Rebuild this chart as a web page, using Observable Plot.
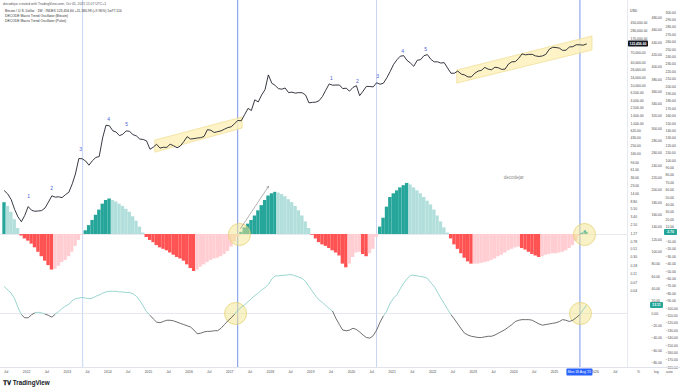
<!DOCTYPE html>
<html><head><meta charset="utf-8">
<script src="https://cdn.jsdelivr.net/npm/d3@7"></script>
<script src="https://cdn.jsdelivr.net/npm/@observablehq/plot@0.6"></script>
<style>
body{margin:0;background:#fff;}
#wrap{position:relative;width:680px;height:391px;overflow:hidden;font-family:"Liberation Sans",Arial,sans-serif;}
#wrap svg{position:absolute;left:0;top:0;background:transparent;overflow:visible;}
.t{position:absolute;white-space:nowrap;line-height:1;}
</style></head><body><div id="wrap"></div>
<script>
// ---------------- data (monthly, Jun 2011 .. Oct 2025) ----------------
const firstMonth = "2011-06";
const price = [
 17,14,10,5.5,3.5,2.6,3.8,
 6.5,5.2,4.9,5.0,5.1,6.0,8.5,12.5,11.5,11.8,11.2,13.4,
 15.5,26,47,120,118,103,80,105,128,135,420,900,
 870,640,600,480,520,640,620,510,470,390,380,350,
 210,240,285,225,237,235,285,260,230,255,335,450,
 390,400,415,425,455,690,665,580,610,640,710,780,
 820,1000,1200,1180,1700,2500,2200,4200,3700,5600,7800,19000,
 11500,10000,8300,8000,8600,6500,6700,6300,6500,6450,5600,3500,
 3600,3650,3950,5100,7500,11000,10200,10300,10300,8300,8500,7100,
 8900,9900,5400,7100,9500,9400,9200,11800,10800,11500,16000,23500,
 36000,48000,59000,61000,46000,39000,32000,46000,48000,61000,65000,49000,
 42000,42000,39000,40000,29000,21000,21000,24000,20000,19000,16800,16800,
 21000,24000,25000,30000,27000,26000,30300,29300,26500,27000,37000,42000,
 42500,52000,68000,64000,66000,66000,60000,58000,60000,66000,90000,101000,
 100000,96000,84000,85000,103000,105000,118000,118000,115000,123456.6
];
const oscBitcoin = [
 43,38,30,20,8,-2,-6,
 -9,-13,-18,-24,-30,-36,-42,-48,-47,-43,-38,-35,
 -30,-24,-16,-8,-1,5,12,19,26,33,41,46,
 48,46,44,41,38,34,30,24,18,10,2,-4,
 -8,-11,-15,-18,-20,-22,-25,-28,-31,-33,-36,-41,
 -46,-50,-48,-44,-41,-38,-35,-33,-32,-30,-27,-23,
 -17,-10,-3,3,9,14,19,25,32,39,46,52,
 55,57,56,54,51,47,43,38,32,25,17,8,
 -1,-6,-11,-14,-16,-19,-22,-25,-29,-40,-45,-40,
 -31,-25,-24,-27,-30,-26,-20,-4,10,22,37,50,
 55,59,63,66,69,67,63,59,55,50,45,40,
 33,25,17,9,2,-6,-14,-20,-26,-32,-37,-40,
 -40,-40,-39,-38,-37,-35,-33,-30,-28,-25,-22,-20,
 -18,-17,-19,-21,-24,-27,-29,-31,-30,-28,-27,-26,
 -26,-25,-24,-22,-19,-15,-9,-3,1,3
];
const oscPulse = [
 44,38,33,24,10,-2,-7,
 -7,-2,1,2,1,-1,-3,-6,-1,3,8,12,
 15,21,24,25,26,25,24,25,28,30,33,35,
 36,36,36,35,35,34,34,32,28,21,12,3,
 -3,-9,-14,-15,-13,-11,-11,-12,-14,-16,-18,-20,
 -22,-27,-33,-32,-30,-29,-29,-28,-28,-24,-18,-12,
 -7,-1,5,10,14,19,24,29,33,38,42,47,
 56,61,61,62,62,63,63,61,59,57,52,44,
 36,28,22,18,13,8,4,-8,-18,-27,-28,-27,
 -24,-26,-30,-35,-39,-40,-36,-27,-14,-4,4,17,
 25,31,40,49,56,62,62,61,60,59,57,50,
 44,34,25,16,7,-2,-9,-17,-25,-32,-35,-37,
 -38,-39,-39,-38,-37,-37,-35,-32,-29,-26,-22,-18,
 -13,-11,-10,-10,-10,-11,-14,-17,-19,-18,-17,-16,
 -15,-13,-10,-11,-13,-11,-7,-2,6,13
];
// wave count labels
const waveDates = ["2012-01-19","2012-08-13","2013-05-01","2014-01-08","2014-06-18","2019-07-05","2020-02-24","2020-08-23","2021-04-05","2021-10-30"];
const wavePrices = [12,19.5,207,1274,941,15300,12700,17200,78500,88500];
const waveText = ["1","2","3","4","5","1","2","3","4","5"];
// parallel channels
const chanDates = [["2015-03-06","2017-04-27"],["2022-08-13","2025-12-09"]];
const chanLo = [[172,738],[11300,83500]];
const chanHi = [[357,1438],[24800,195000]];
// vertical markers
const markerDates = ["2013-05-19","2017-03-14","2020-08-14","2025-08-18"];
const markerStrong = [false,true,false,true];
// highlight circles
const histCircleDates = ["2017-03-30","2025-09-28"];
const pulseCircleDates = ["2017-02-23","2025-08-23"];
// annotation arrows (oscillator units)
const arrowFrom = [["2017-04-08",8],["2025-08-15",0]];
const arrowTo = [["2017-12-16",65],["2025-10-08",5]];
// axis ticks
const xTickDates = ["2011-07-01","2012-01-01","2012-07-01","2013-01-01","2013-07-01","2014-01-01","2014-07-01","2015-01-01","2015-07-01","2016-01-01","2016-07-01","2017-01-01","2017-07-01","2018-01-01","2018-07-01","2019-01-01","2019-07-01","2020-01-01","2020-07-01","2021-01-01","2021-07-01","2022-01-01","2022-07-01","2023-01-01","2023-07-01","2024-01-01","2024-07-01","2025-01-01","2026-01-01","2026-07-01"];
const priceTicks = [450000,280000,170000,70000,40000,26000,16000,10000,6500,4000,2500,1600,1000,620,430,250,160,94,61,36,23,14,8.8,5.5,3.4,2.1,1.27,0.78,0.51,0.30,0.18,0.11,0.065,0.04];
const pulseTicks = [480,460,440,420,400,380,360,340,320,300,280,260,240,220,200,180,160,140,120,100,80,60,40,20,0,-20,-40,-60,-80];
const histTicks = [300,290,280,270,260,250,240,230,220,210,200,190,180,170,160,150,140,130,120,110,100,90,80,70,60,50,40,30,20,10,-10,-20,-30,-40,-50,-60,-70,-80,-90,-100,-110,-120,-130,-140,-150,-160,-170,-180];
const lastPrice = 123456.6, lastPulse = 13.11, lastHist = 2.7;

// ---------------- build tables ----------------
const d0 = d3.utcParse("%Y-%m")(firstMonth);
const P = s => new Date(s + "T00:00:00Z");
const mdate = i => d3.utcDay.offset(d3.utcMonth.offset(d0, i), 14);
const priceData = price.map((v, i) => ({date: mdate(i), v}));
const histData = oscBitcoin.map((v, i) => {
  const prev = i ? oscBitcoin[i - 1] : v - 1;
  const up = v >= prev;
  const fill = v >= 0 ? (up ? "#26a69a" : "#b2dfdb") : (up ? "#ffcdd2" : "#ff5252");
  const m = d3.utcMonth.offset(d0, i);
  return {x1: m, x2: d3.utcMonth.offset(m, 1), v, fill};
});
const pulseData = oscPulse.map((v, i) => ({date: mdate(i), v}));
const pulseSeg = pulseData.slice(1).map((d, i) => {
  const a = pulseData[i];
  return {x1: a.date, y1: a.v, x2: d.date, y2: d.v, c: (a.v + d.v) / 2 >= 0 ? "#80cbc4" : "#4a4a4a"};
});
const waves = waveText.map((t, i) => ({date: P(waveDates[i]), p: wavePrices[i], t}));
const chans = chanDates.flatMap((ds, k) => ds.map((d, j) => ({k, date: P(d), lo: chanLo[k][j], hi: chanHi[k][j]})));
const markers = markerDates.map((d, i) => ({date: P(d), c: markerStrong[i] ? "#6a88e8" : "#c3cff3"}));
const arrows = arrowFrom.map((a, i) => ({x1: P(a[0]), y1: a[1], x2: P(arrowTo[i][0]), y2: arrowTo[i][1], c: i ? "#26a69a" : "#808080"}));

// ---------------- layout ----------------
const W = 680, H = 380, MR = 53, MB = 13;
const xDomain = [P("2011-05-11"), P("2026-10-20")];
const base = {width: W, height: H, marginLeft: 0, marginRight: MR, marginTop: 0, marginBottom: MB,
  style: {background: "transparent", fontFamily: "Liberation Sans, Arial, sans-serif", fontSize: "3.4px", color: "#4a4a4a", overflow: "visible"},
  color: {type: "identity"}};
const fmt2 = d => (d < 0 ? "\u2212" : "") + d3.format(",.2f")(Math.abs(d));
const wrap = document.getElementById("wrap");
const axisText = (ticks, dx) => Plot.text(ticks, {y: d => d, text: fmt2, frameAnchor: "right", dx, textAnchor: "start", fill: "#4a4a4a", fontSize: 3.4});

// layer 1: histogram oscillator
const histPlot = Plot.plot({...base,
  x: {type: "utc", domain: xDomain, axis: null},
  y: {type: "linear", domain: [-179.7, 316.2], axis: null},
  marks: [
    Plot.ruleX(markers, {x: "date", stroke: "c", strokeWidth: 0.9}),
    Plot.ruleY([0], {stroke: "#dcdfe6", strokeWidth: 0.7}),
    Plot.rectY(histData, {x1: "x1", x2: "x2", y: "v", fill: "fill"}),
    Plot.dot(histCircleDates.map(P), {x: d => d, y: () => 0, r: 11, fill: "#f4e58e", fillOpacity: 0.5, stroke: "#e3cf6a", strokeWidth: 0.7}),
    Plot.arrow(arrows, {x1: "x1", y1: "y1", x2: "x2", y2: "y2", stroke: "c", strokeWidth: 0.6, headLength: 4}),
    Plot.text(["decodejar"], {x: () => P("2024-01-01"), y: () => 77, fill: "#8a8a8a", fontSize: 4.6}),
    axisText(histTicks, 38)
  ]});
wrap.appendChild(histPlot);

// layer 2: pulse oscillator
const pulsePlot = Plot.plot({...base,
  x: {type: "utc", domain: xDomain, axis: null},
  y: {type: "linear", domain: [-87.7, 508.1], axis: null},
  marks: [
    Plot.ruleY([0], {stroke: "#dcdfe6", strokeWidth: 0.7}),
    Plot.dot(pulseCircleDates.map(P), {x: d => d, y: () => 0, r: 11, fill: "#f4e58e", fillOpacity: 0.5, stroke: "#e3cf6a", strokeWidth: 0.7}),
    Plot.link(pulseSeg, {x1: "x1", y1: "y1", x2: "x2", y2: "y2", stroke: "c", strokeWidth: 0.8}),
    axisText(pulseTicks, 24)
  ]});
wrap.appendChild(pulsePlot);

// layer 3: price (log) + time axis
const pricePlot = Plot.plot({...base,
  x: {type: "utc", domain: xDomain, axis: "bottom", ticks: xTickDates.map(P), tickFormat: d => d.getUTCMonth() === 0 ? String(d.getUTCFullYear()) : "Jul", tickSize: 0, tickPadding: 3, label: null},
  y: {type: "log", domain: [3.793e-4, 1.726e6], axis: null},
  marks: [
    Plot.ruleX([xDomain[1]], {stroke: "#e0e3eb", strokeWidth: 0.8}),
    ...[0, 1].map(k => Plot.areaY(chans.filter(d => d.k === k), {x: "date", y1: "lo", y2: "hi", fill: "#fdf1bd", fillOpacity: 0.85, stroke: "#ecd67e", strokeWidth: 0.6})),
    Plot.line(priceData, {x: "date", y: "v", stroke: "#131722", strokeWidth: 0.85}),
    Plot.text(waves, {x: "date", y: "p", text: "t", fill: "#4a5fd8", fontSize: 5}),
    axisText(priceTicks, 3)
  ]});
wrap.appendChild(pricePlot);

// badges drawn with each plot's own scales
function scaleFn(plot, name) {
  const s = plot.scale(name);
  if (s && s.apply) return v => s.apply(v);
  return (s.type === "log" ? d3.scaleLog() : s.type === "utc" ? d3.scaleUtc() : d3.scaleLinear()).domain(s.domain).range(s.range);
}
function badge(plot, yv, text, x, w, bg, fg) {
  const y = scaleFn(plot, "y")(yv);
  const g = d3.select(plot).append("g");
  g.append("rect").attr("x", x).attr("y", y - 3).attr("width", w).attr("height", 6).attr("rx", 0.8).attr("fill", bg);
  g.append("text").attr("x", x + w / 2).attr("y", y).attr("text-anchor", "middle").attr("dominant-baseline", "central")
    .attr("fill", fg).attr("font-size", 3.4).attr("font-weight", "bold").text(text);
}
badge(pricePlot, lastPrice, fmt2(lastPrice), 628, 20, "#131722", "#fff");
badge(pulsePlot, lastPulse, fmt2(lastPulse), 650, 13, "#26a69a", "#fff");
badge(histPlot, lastHist, fmt2(lastHist), 664, 13, "#26a69a", "#fff");
{
  const xf = scaleFn(pricePlot, "x");
  const x = xf(P(markerDates[3]));
  const g = d3.select(pricePlot).append("g");
  g.append("rect").attr("x", x - 13).attr("y", 368.5).attr("width", 26).attr("height", 7).attr("rx", 0.8).attr("fill", "#2962ff");
  g.append("text").attr("x", x).attr("y", 372).attr("text-anchor", "middle").attr("dominant-baseline", "central")
    .attr("fill", "#fff").attr("font-size", 3.4).text("Mon 18 Aug '25");
}

// static texts
function addText(txt, css) { const d = document.createElement("div"); d.className = "t"; d.textContent = txt; Object.assign(d.style, css); wrap.appendChild(d); }
addText("decodejar created with TradingView.com, Oct 05, 2025 11:07 UTC+1", {left: "3px", top: "2.5px", fontSize: "3.4px", color: "#555"});
addText("Bitcoin / U.S. Dollar \u00b7 1W \u00b7 INDEX   123,456.60  +11,180.98 (+9.96%)  1w77,114", {left: "5px", top: "9.5px", fontSize: "3.4px", color: "#333"});
addText("DECODE Macro Trend Oscillator (Bitcoin)", {left: "5px", top: "14.5px", fontSize: "3.4px", color: "#333"});
addText("DECODE Macro Trend Oscillator (Pulse)", {left: "5px", top: "19.5px", fontSize: "3.4px", color: "#333"});
addText("USD", {left: "630px", top: "9.5px", fontSize: "3.4px", color: "#333"});
addText("%", {left: "637px", top: "370.5px", fontSize: "3.4px", color: "#555"});
addText("log", {left: "654px", top: "370.5px", fontSize: "3.4px", color: "#555"});
addText("auto", {left: "666px", top: "370.5px", fontSize: "3.4px", color: "#555"});
addText("\u{1D413}\u{1D415} TradingView", {left: "3px", top: "380px", fontSize: "6.3px", color: "#131722", fontWeight: "bold"});
const hr = document.createElement("div");
Object.assign(hr.style, {position: "absolute", left: "0px", top: "367px", width: "680px", height: "0.7px", background: "#e0e3eb"});
wrap.appendChild(hr);
</script></body></html>
